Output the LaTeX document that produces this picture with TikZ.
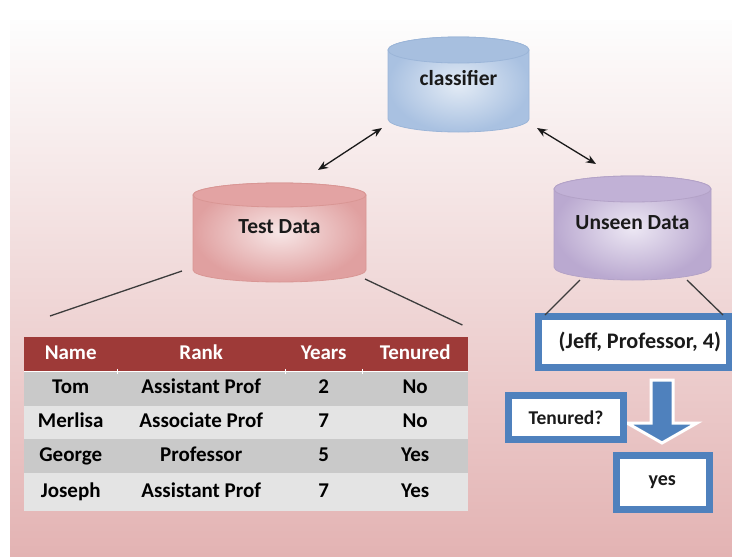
\documentclass[tikz,border=0pt]{standalone}
\usepackage{fontspec}
\setmainfont{Carlito}
\usetikzlibrary{matrix,arrows.meta}
\definecolor{bgtop}{HTML}{FDFDFD}
\definecolor{bgbot}{HTML}{E3B3B3}
\definecolor{clfend}{HTML}{A7BFDF}
\definecolor{clfin}{HTML}{E3EBF5}
\definecolor{clfout}{HTML}{A9C1E1}
\definecolor{clfline}{HTML}{9BB5D8}
\definecolor{tstend}{HTML}{E3A3A3}
\definecolor{tstin}{HTML}{F7E6E6}
\definecolor{tstout}{HTML}{E0A0A0}
\definecolor{tstline}{HTML}{D99694}
\definecolor{unsend}{HTML}{C1B1D6}
\definecolor{unsin}{HTML}{EDE8F4}
\definecolor{unsout}{HTML}{BAA9D0}
\definecolor{unsline}{HTML}{B3A2C7}
\definecolor{hdr}{HTML}{9E3A38}
\definecolor{rowdk}{HTML}{C9C9C9}
\definecolor{rowlt}{HTML}{E4E4E4}
\definecolor{boxblue}{HTML}{4F81BD}
\definecolor{ink}{HTML}{1A1A1A}
\newcommand\dbfont{\fontsize{21.5}{24}\selectfont\bfseries}
\newcommand\tbfont{\fontsize{21}{24}\selectfont\bfseries}
% cylinder: name, centre x, centre y, width, height, end radius, colour prefix, text
\newcommand\dbnode[8]{%
  \shade[draw=#7line,line width=0.8,inner color=#7in,outer color=#7out]
    (#2-#4/2,#3-#5/2+#6) -- (#2-#4/2,#3+#5/2-#6) arc[start angle=180,end angle=0,x radius=#4/2,y radius=#6]
    -- (#2+#4/2,#3-#5/2+#6) arc[start angle=0,end angle=-180,x radius=#4/2,y radius=#6] -- cycle;
  \filldraw[fill=#7end,draw=#7line,line width=0.8] (#2,#3-#5/2+#6) ellipse[x radius=#4/2,y radius=#6];
  \node[dbbox,minimum width=#4,minimum height=#5] (#1) at (#2,#3) {#8};}
\tikzset{dbbox/.style={inner sep=0,outer sep=0,text height=16,text depth=14,font=\dbfont,text=ink}}
\tikzset{cell/.style={inner sep=0,minimum height=34,text height=15,text depth=5,font=\tbfont}}
\tikzset{outbox/.style={draw=boxblue,line width=7,fill=white,inner sep=0,text=ink,font=\fontsize{21}{24}\selectfont\bfseries}}
\tikzset{link/.style={draw=ink!85,line width=1.3}}
\tikzset{dbl/.style={{Stealth[length=10pt,width=8pt]}-{Stealth[length=10pt,width=8pt]},line width=1.3,draw=ink}}

\begin{document}
\begin{tikzpicture}[x=1pt,y=-1pt]
  \useasboundingbox (0,0) rectangle (732,560);
  \fill[top color=bgtop,bottom color=bgbot] (10,20) rectangle (740,556);
  % data stores
  \dbnode{clf}{458.5}{84.5}{141}{95}{13}{clf}{classifier}
  \dbnode{test}{279.5}{232.5}{173}{99}{12}{tst}{Test Data}
  \dbnode{unseen}{632.5}{228}{157}{104}{13}{uns}{Unseen Data}
  \draw[dbl] ([shift={(-6,-4)}]clf.south west) -- ([shift={(38.5,-13)}]test.north);
  \draw[dbl] ([shift={(8,-4)}]clf.south east) -- ([shift={(-36.5,-12)}]unseen.north);
  % training table
  \matrix (tbl) [matrix of nodes,anchor=north west,inner sep=0,nodes={cell},
    column 1/.style={nodes={minimum width=93}},
    column 2/.style={nodes={minimum width=168}},
    column 3/.style={nodes={minimum width=77}},
    column 4/.style={nodes={minimum width=106}},
    row 1/.style={nodes={fill=hdr,text=white}},
    row 2/.style={nodes={fill=rowdk,minimum height=35}},
    row 3/.style={nodes={fill=rowlt,minimum height=33}},
    row 4/.style={nodes={fill=rowdk}},
    row 5/.style={nodes={fill=rowlt,minimum height=38}}] at (24,337) {
    Name & Rank & Years & Tenured \\
    Tom & Assistant Prof & 2 & No \\
    Merlisa & Associate Prof & 7 & No \\
    George & Professor & 5 & Yes \\
    Joseph & Assistant Prof & 7 & Yes \\
  };
  \draw[white,line width=1.5] (tbl-1-1.south west) -- (tbl-1-4.south east);
  \foreach \c in {1,2,3}
    \draw[white,line width=1.5] ([yshift=2.5pt]tbl-1-\c.south east) -- ([yshift=-2.5pt]tbl-1-\c.south east);
  \draw[link] ([shift={(-11,-11)}]test.south west) -- ([shift={(26,-21)}]tbl.north west);
  \draw[link] ([shift={(-1,-3)}]test.south east) -- ([shift={(-6,-12)}]tbl.north east);
  % new sample
  \node[outbox,minimum width=191,minimum height=51,text width=174,align=flush right,
    font=\fontsize{22.2}{24}\selectfont\bfseries] (jeff) at (634,342) {(Jeff, Professor, 4)};
  \draw[link] ([shift={(26,0)}]unseen.south west) -- ([shift={(10,2)}]jeff.north west);
  \draw[link] ([shift={(-24,0)}]unseen.south east) -- ([shift={(-10,2)}]jeff.north east);
  \coordinate (dn) at ([shift={(28,9)}]jeff.south);
  \filldraw[draw=white,line width=3,fill=boxblue] (dn) +(-11,0) -- +(-11,43) -- +(-35,43) -- +(0,63)
    -- +(35,43) -- +(11,43) -- +(11,0) -- cycle;
  \node[outbox,minimum width=115,minimum height=44,font=\fontsize{19.5}{24}\selectfont\bfseries] (ask) at (566,417.5) {Tenured?};
  \node[outbox,minimum width=93,minimum height=54,text width=85,align=flush left,
    font=\fontsize{20}{24}\selectfont\bfseries] (yes) at (663,482.5) {\hspace*{28pt}yes};
\end{tikzpicture}
\end{document}
